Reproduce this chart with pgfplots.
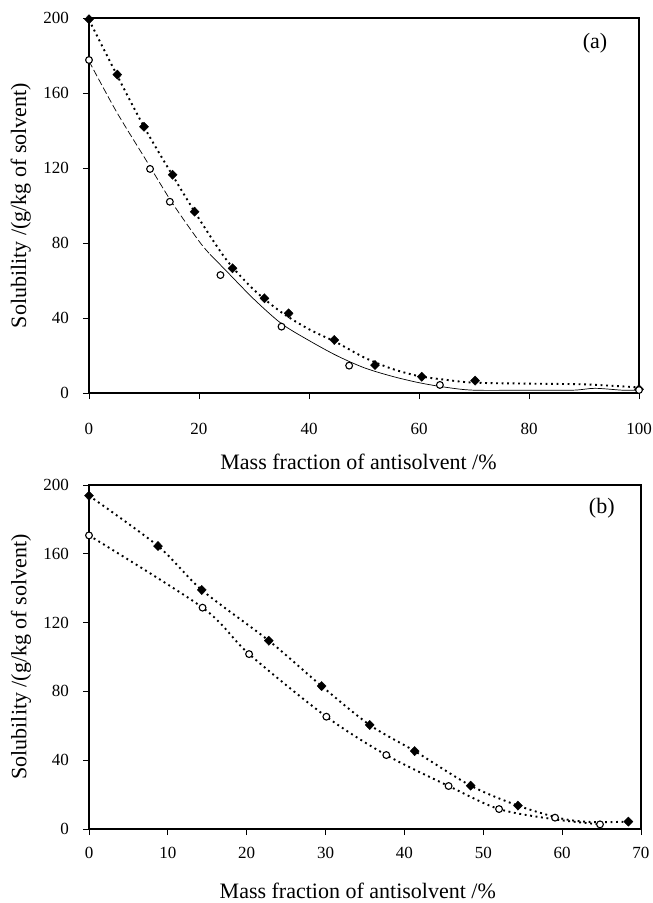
\documentclass[border=0pt]{standalone}
\usepackage{fontspec}
\setmainfont{Liberation Serif}
\usepackage{pgfplots}
\pgfplotsset{compat=1.18}
\begin{document}
\begin{tikzpicture}
\pgfplotsset{
  panel/.style={
    scale only axis,
    anchor=south west,
    tick align=outside,
    major tick length=6pt,
    xtick pos=bottom, ytick pos=left,
    /pgf/number format/assume math mode=true,
    tick label style={font=\fontsize{17}{19}\selectfont},
    label style={font=\fontsize{22}{25}\selectfont},
    yticklabel style={anchor=east, inner sep=0pt, xshift=-14pt},
    ylabel={Solubility /(g/kg of solvent)},
    xlabel={Mass fraction of antisolvent /\%},
    ymin=0, ymax=200, ytick={0,40,...,200},
    tick style={black, line width=0.8pt},
  },
  dia/.style={mark=diamond*, mark size=4.6pt, only marks, black, mark options={solid, fill=black, xscale=1.3}},
  circ/.style={mark=*, mark size=3.4pt, only marks, black, mark options={solid, fill=white, line width=1.1pt}},
  dots/.style={black, line width=1.9pt, dash pattern=on 1.9pt off 3.6pt, smooth, no marks},
}
\path[use as bounding box] (0,0) rectangle (653pt,-903pt);

% ---------------- panel (a)
\begin{axis}[panel,
  at={(89pt,-393pt)}, width=550pt, height=375pt,
  xmin=0, xmax=100, xtick={0,20,...,100},
  axis line style={line width=1.2pt},
  xticklabel style={anchor=center, yshift=-30pt},
  xlabel style={at={(axis description cs:0.49,-0.2027)}, anchor=base},
  ylabel style={at={(axis description cs:-0.124,0.5)}, anchor=center},
]
\addplot[dots] coordinates {
 (0,199) (5,170) (10,142) (15,117) (20,93) (25,71) (30,55) (35,43) (40,34)
 (45,27) (50,19) (55,13) (60,9) (65,7) (70,5.5) (80,5) (90,4.6) (100,3)};
\addplot[black, line width=0.7pt, dash pattern=on 7pt off 3pt, smooth, no marks] coordinates {
 (0,177) (5,150) (10,126) (15,102) (20,81) (22,74)};
\addplot[black, line width=0.7pt, smooth, no marks] coordinates {
 (22,74) (25,65) (30,50) (35,37) (40,28) (45,20) (50,13.5) (55,9) (60,5.5)
 (65,3) (70,1.5) (80,1.5) (88,1.5) (92,2.5) (97,1.5) (100,1.5)};
\addplot[dia] coordinates {
 (0,199.3) (5.15,169.8) (10.0,142) (15.2,116.4) (19.2,96.7) (26.1,66.5)
 (31.9,50.5) (36.3,42.5) (44.6,28.3) (52.0,14.9) (60.5,8.7) (70.2,6.6) (100,2)};
\addplot[circ] coordinates {
 (0,177.6) (11.1,119.5) (14.7,102) (23.9,62.9) (35.0,35.4) (47.3,14.6) (63.8,4.3) (100,1.6)};
\node[font=\fontsize{22}{25}\selectfont] at (rel axis cs:0.92,0.933) {(a)};
\end{axis}

% ---------------- panel (b)
\begin{axis}[panel,
  at={(89pt,-829pt)}, width=552pt, height=344pt,
  xmin=0, xmax=70, xtick={0,10,...,70},
  axis line style={line width=1.6pt},
  xticklabel style={anchor=center, yshift=-18pt},
  xlabel style={at={(axis description cs:0.487,-0.2006)}, anchor=base},
  ylabel style={at={(axis description cs:-0.1232,0.5)}, anchor=center},
]
\addplot[dots] coordinates {
 (0,193.8) (8.75,164.5) (14.3,139) (22.8,109.5) (29.5,83.1) (35.6,60.5)
 (41.3,45.3) (48.4,25.2) (54.4,13.6) (60,6) (64,4) (68.4,4.3)};
\addplot[dots] coordinates {
 (0,170.7) (14.4,128.7) (20.3,101.7) (30.1,65.3) (37.7,43) (45.6,25)
 (52.0,11.6) (59.1,5.6) (64.8,2.7)};
\addplot[dia] coordinates {
 (0,193.8) (8.75,164.5) (14.3,139) (22.8,109.5) (29.5,83.1) (35.6,60.5)
 (41.3,45.3) (48.4,25.2) (54.4,13.6) (68.4,4.3)};
\addplot[circ] coordinates {
 (0,170.7) (14.4,128.7) (20.3,101.7) (30.1,65.3) (37.7,43) (45.6,25)
 (52.0,11.6) (59.1,6.6) (64.8,2.7)};
\node[font=\fontsize{22}{25}\selectfont] at (rel axis cs:0.929,0.933) {(b)};
\end{axis}
\end{tikzpicture}
\end{document}
